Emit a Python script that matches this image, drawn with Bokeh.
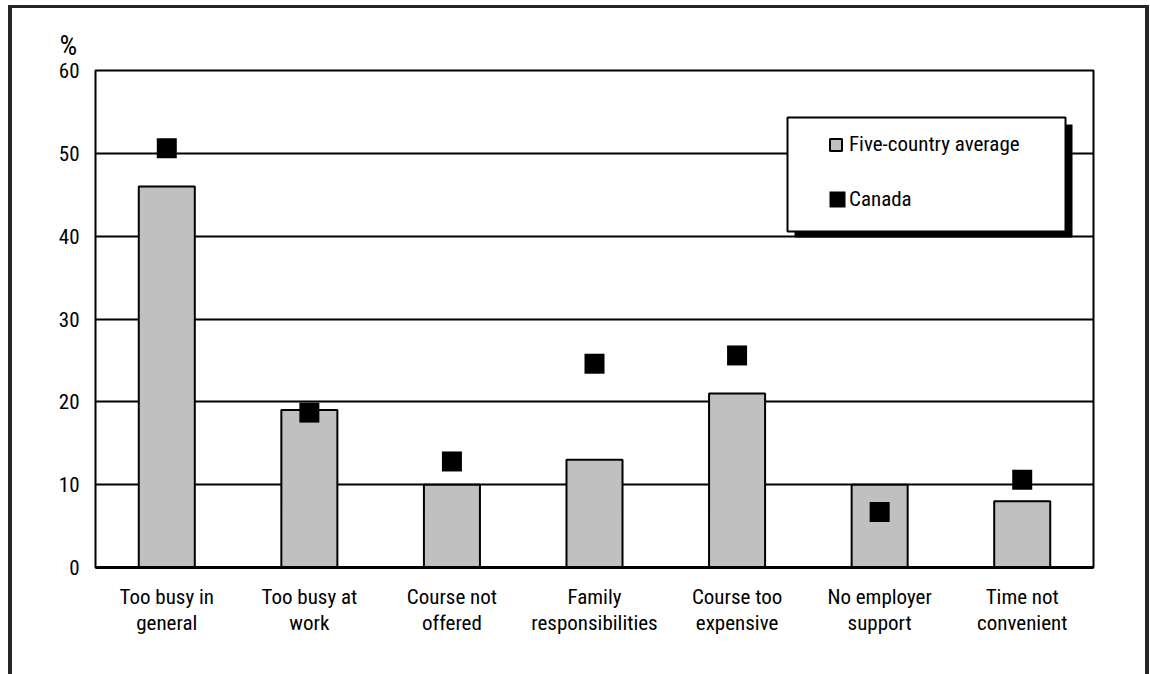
import subprocess
from bokeh.plotting import figure
from bokeh.models import (Range1d, FactorRange, Legend, LegendItem, BoxAnnotation,
                          Title, FixedTicker)
from bokeh.embed import file_html
from bokeh.resources import INLINE

# ---- data ----
categories = ["Too busy in\ngeneral", "Too busy at\nwork", "Course not\noffered",
              "Family\nresponsibilities", "Course too\nexpensive",
              "No employer\nsupport", "Time not\nconvenient"]
five_country_average = [46, 19, 10, 13, 21, 10, 8]
canada = [50.6, 18.7, 12.8, 24.6, 25.6, 6.7, 10.6]
y_ticks = [0, 10, 20, 30, 40, 50, 60]
series_names = ["Five-country average", "Canada"]
unit_label = "%"


def _families():
    try:
        out = subprocess.run(["fc-list", ":", "family"], capture_output=True,
                             text=True, timeout=10).stdout
    except Exception:
        return set()
    fams = set()
    for line in out.splitlines():
        for f in line.split(","):
            fams.add(f.strip())
    return fams


_fams = _families()
FONT, FS = "Liberation Sans", "20px"
for cand, size in [("Liberation Sans Narrow", "22px"), ("Roboto Condensed", "21px"),
                   ("Open Sans Condensed", "21px"), ("DejaVu Sans Condensed", "19px")]:
    if cand in _fams:
        FONT, FS = cand, size
        break

p = figure(width=1150, height=674, title=None,
           x_range=FactorRange(*categories), y_range=Range1d(0, 60),
           output_backend="svg", toolbar_location=None,
           min_border_left=95, min_border_right=57,
           min_border_top=70, min_border_bottom=107)
p.background_fill_color = "white"
p.border_fill_color = None
p.outline_line_color = "black"
p.outline_line_width = 2
p.outline_line_alpha = 1
# outer page frame (open at the bottom)
p.styles = {"box-shadow": "inset 8px 0 0 0 white, inset -1px 0 0 0 white, "
                          "inset 0 5px 0 0 white, "
                          "inset 12px 0 0 0 #262626, inset -5px 0 0 0 #262626, "
                          "inset 0 8px 0 0 #262626"}

bars = p.vbar(x=categories, top=five_country_average, width=0.393,
              fill_color="#c0c0c0", line_color="black", line_width=2)
pts = p.scatter(x=categories, y=canada, marker="square", size=20,
                fill_color="black", line_color=None)
# hidden square-swatch renderer of the Canada series, used only by the legend
swatch = p.vbar(x=categories, top=canada, width=0.1, fill_color="black",
                line_color=None, visible=False)

# x axis
p.xgrid.visible = False
p.xaxis.axis_line_color = "black"
p.xaxis.axis_line_width = 3
p.xaxis.major_tick_line_color = None
p.xaxis.major_tick_out = 0
p.xaxis.major_tick_in = 0
p.xaxis.minor_tick_line_color = None
p.xaxis.major_label_standoff = 17
p.xaxis.major_label_text_font = FONT
p.xaxis.major_label_text_font_size = FS
p.xaxis.major_label_text_color = "black"
p.xaxis.major_label_text_line_height = 1.1

# y axis
p.yaxis.ticker = FixedTicker(ticks=y_ticks)
p.yaxis.axis_line_color = None
p.yaxis.major_tick_line_color = None
p.yaxis.major_tick_out = 0
p.yaxis.major_tick_in = 0
p.yaxis.minor_tick_line_color = None
p.yaxis.major_label_standoff = 16
p.yaxis.major_label_text_font = FONT
p.yaxis.major_label_text_font_size = FS
p.yaxis.major_label_text_color = "black"
p.ygrid.grid_line_color = "black"
p.ygrid.grid_line_width = 2
p.ygrid.ticker = FixedTicker(ticks=y_ticks)

# "%" unit label above the value axis
p.add_layout(Title(text=unit_label, align="left", offset=-36, standoff=17,
                   text_font=FONT, text_font_size="28px", text_font_style="normal",
                   text_color="black"), "above")

# legend shadow and box
p.add_layout(BoxAnnotation(left=794, right=1072, top=124, bottom=237,
                           left_units="canvas", right_units="canvas",
                           top_units="canvas", bottom_units="canvas",
                           fill_color="black", fill_alpha=1, line_color=None))
p.add_layout(BoxAnnotation(left=787, right=1065, top=117, bottom=231,
                           left_units="canvas", right_units="canvas",
                           top_units="canvas", bottom_units="canvas",
                           fill_color="white", fill_alpha=1,
                           line_color="black", line_alpha=1, line_width=2))

leg1 = Legend(items=[LegendItem(label=series_names[0], renderers=[bars])],
              location=(733, 411), glyph_width=15, glyph_height=15,
              label_height=15, label_standoff=6, padding=0, margin=0, spacing=0,
              border_line_color=None, background_fill_alpha=0,
              label_text_font=FONT, label_text_font_size=FS, label_text_color="black")
leg2 = Legend(items=[LegendItem(label=series_names[1], renderers=[swatch])],
              location=(732, 356), glyph_width=20, glyph_height=20,
              label_height=20, label_standoff=2, padding=0, margin=0, spacing=0,
              border_line_color=None, background_fill_alpha=0,
              inactive_fill_alpha=0,
              label_text_font=FONT, label_text_font_size=FS, label_text_color="black")
p.add_layout(leg1, "center")
p.add_layout(leg2, "center")

open("out.html", "w").write(file_html(p, INLINE))
